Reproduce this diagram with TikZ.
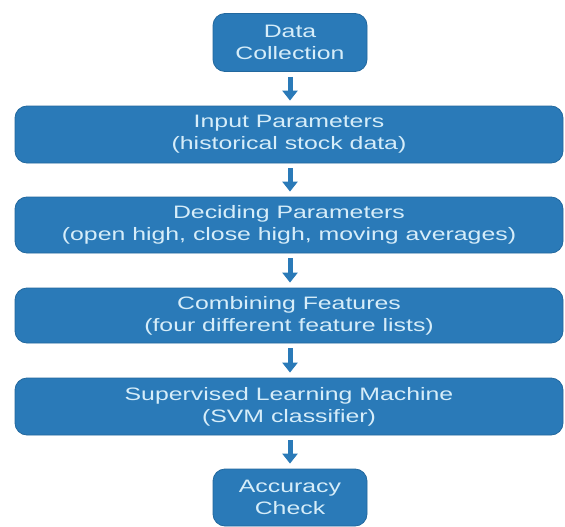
\documentclass[tikz,border=0pt]{standalone}
\usepackage{fontspec}
\newfontfamily\flowfont[FakeStretch=1.38]{Liberation Sans}
\usetikzlibrary{arrows.meta}
\definecolor{boxblue}{RGB}{42,122,184}
\definecolor{boxedge}{RGB}{34,104,158}
\definecolor{boxtext}{RGB}{214,237,249}
\tikzset{
  flowbox/.style={rectangle, rounded corners=12pt, fill=boxblue, draw=boxedge,
    line width=0.8pt, text=boxtext, align=center, inner sep=0pt,
    font=\flowfont\fontsize{18}{22}\selectfont},
  widebox/.style={flowbox, minimum width=548pt, minimum height=57pt},
  smallbox/.style={flowbox, minimum width=154pt, minimum height=58pt},
  flowarrow/.style={draw=boxblue, line width=5pt,
    -{Triangle[width=15pt,length=10pt]}, shorten <=5pt, shorten >=5pt}
}
\begin{document}
\begin{tikzpicture}[x=1pt,y=-1pt]
  \useasboundingbox[fill=white] (0,0) rectangle (565,527);
  \node[smallbox] (dc) at (290,42.5) {Data\\Collection};
  \node[widebox]  (ip) at (289,134.5) {Input Parameters\\(historical stock data)};
  \node[widebox, minimum height=56pt] (dp) at (289,225) {Deciding Parameters\\(open high, close high, moving averages)};
  \node[widebox, minimum height=55pt] (cf) at (289,315.5) {Combining Features\\(four different feature lists)};
  \node[widebox]  (sl) at (289,406.5) {Supervised Learning Machine\\(SVM classifier)};
  \node[smallbox, minimum height=57pt] (ac) at (290,497.5) {Accuracy\\Check};
  \draw[flowarrow] (dc.south) -- (dc.south |- ip.north);
  \draw[flowarrow] (ip.south -| dc.south) -- (dc.south |- dp.north);
  \draw[flowarrow] (dp.south -| dc.south) -- (dc.south |- cf.north);
  \draw[flowarrow] (cf.south -| dc.south) -- (dc.south |- sl.north);
  \draw[flowarrow] (sl.south -| ac.north) -- (ac.north);
\end{tikzpicture}
\end{document}
